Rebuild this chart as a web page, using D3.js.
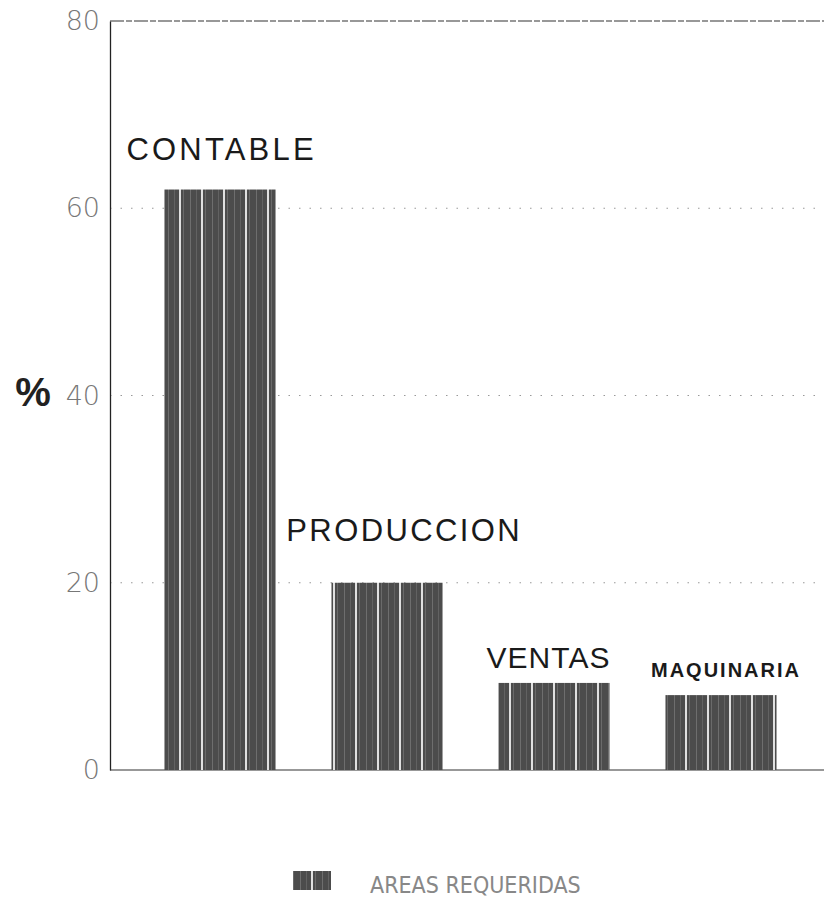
<!DOCTYPE html>
<html><head><meta charset="utf-8">
<script src="https://cdn.jsdelivr.net/npm/d3@7"></script>
<style>html,body{margin:0;padding:0;background:#fff;}svg{display:block;}</style>
</head><body>
<svg id="chart" width="824" height="904"></svg>
<script>
const categories = ["CONTABLE", "PRODUCCION", "VENTAS", "MAQUINARIA"];
const values = [62, 20, 9.3, 8.0];
const yTicks = [0, 20, 40, 60, 80];
const gridTicks = [20, 40, 60];
const seriesName = "AREAS REQUERIDAS";
const yLabel = "%";

const svg = d3.select("#chart");
const mLeft = 110, mRight = 824, mTop = 21, mBottom = 770;

const y = d3.scaleLinear().domain([0, 80]).range([mBottom, mTop]);
const x = d3.scaleBand().domain(categories).range([136.5, 804.5]).paddingInner(0.335).paddingOuter(0.1675);

// pattern for bars
const defs = svg.append("defs");
const pat = defs.append("pattern").attr("id", "barPat").attr("patternUnits", "userSpaceOnUse")
  .attr("width", 22).attr("height", 6).attr("x", 165);
pat.append("rect").attr("width", 22).attr("height", 6).attr("fill", "#4c4c4c");
pat.append("rect").attr("x", 3).attr("width", 1).attr("height", 6).attr("fill", "#6e6e6e");
pat.append("rect").attr("x", 9).attr("width", 1).attr("height", 6).attr("fill", "#626262");
pat.append("rect").attr("x", 14).attr("width", 2).attr("height", 6).attr("fill", "#e0e0e0");
pat.append("rect").attr("x", 18).attr("width", 1).attr("height", 6).attr("fill", "#6a6a6a");

// gridlines (dotted)
svg.append("g").selectAll("line").data(gridTicks).join("line")
  .attr("x1", mLeft).attr("x2", mRight)
  .attr("y1", d => y(d)).attr("y2", d => y(d))
  .attr("stroke", "#999").attr("stroke-width", 1.2).attr("stroke-dasharray", "1.5,9");

// y axis
const yAxis = d3.axisLeft(y).tickValues(yTicks).tickSize(0).tickPadding(10);
const ga = svg.append("g").attr("transform", `translate(${mLeft},0)`).call(yAxis);
ga.select(".domain").attr("stroke", "#222").attr("stroke-width", 1.3);
ga.selectAll("text").attr("font-family", "DejaVu Sans").attr("font-weight", "200")
  .attr("font-size", 27).attr("fill", "#777");

// top & bottom frame lines
svg.append("line").attr("x1", mLeft).attr("x2", mRight).attr("y1", y(80)).attr("y2", y(80))
  .attr("stroke", "#333").attr("stroke-width", 1.2).attr("stroke-dasharray", "14,2,6,2");
svg.append("line").attr("x1", mLeft).attr("x2", mRight).attr("y1", y(0)).attr("y2", y(0))
  .attr("stroke", "#333").attr("stroke-width", 1.2);

// bars
svg.append("g").selectAll("rect").data(categories).join("rect")
  .attr("x", d => x(d)).attr("width", x.bandwidth())
  .attr("y", (d, i) => y(values[i])).attr("height", (d, i) => y(0) - y(values[i]))
  .attr("fill", "url(#barPat)");

// category labels
const labelOffsets = [0, 16, -6, 4];
const labelGap = [30, 42, 15, 18];
const labelSizes = [31, 31, 30, 20];
const labelSpacing = [3.2, 2.4, 1.0, 2.0];
svg.append("g").selectAll("text").data(categories).join("text")
  .attr("x", (d, i) => x(d) + x.bandwidth() / 2 + labelOffsets[i] + labelSpacing[i] / 2)
  .attr("y", (d, i) => y(values[i]) - labelGap[i])
  .attr("text-anchor", "middle")
  .attr("font-family", "Liberation Sans")
  .attr("font-weight", (d, i) => i === 3 ? "bold" : "normal")
  .attr("font-size", (d, i) => labelSizes[i])
  .attr("letter-spacing", (d, i) => labelSpacing[i])
  .attr("fill", "#1a1a1a")
  .text(d => d);

// y label
svg.append("text").attr("x", 33).attr("y", 406).attr("text-anchor", "middle")
  .attr("font-family", "Liberation Sans").attr("font-weight", "bold")
  .attr("font-size", 40).attr("fill", "#222").text(yLabel);

// legend
svg.append("rect").attr("x", 293).attr("y", 871).attr("width", 38).attr("height", 19)
  .attr("fill", "url(#barPat)");
svg.append("text").attr("x", 370).attr("y", 893)
  .attr("font-family", "'Liberation Sans Narrow', 'DejaVu Sans Condensed', sans-serif")
  .attr("font-size", 23).attr("fill", "#888")
  .text(seriesName);
</script>
</body></html>
